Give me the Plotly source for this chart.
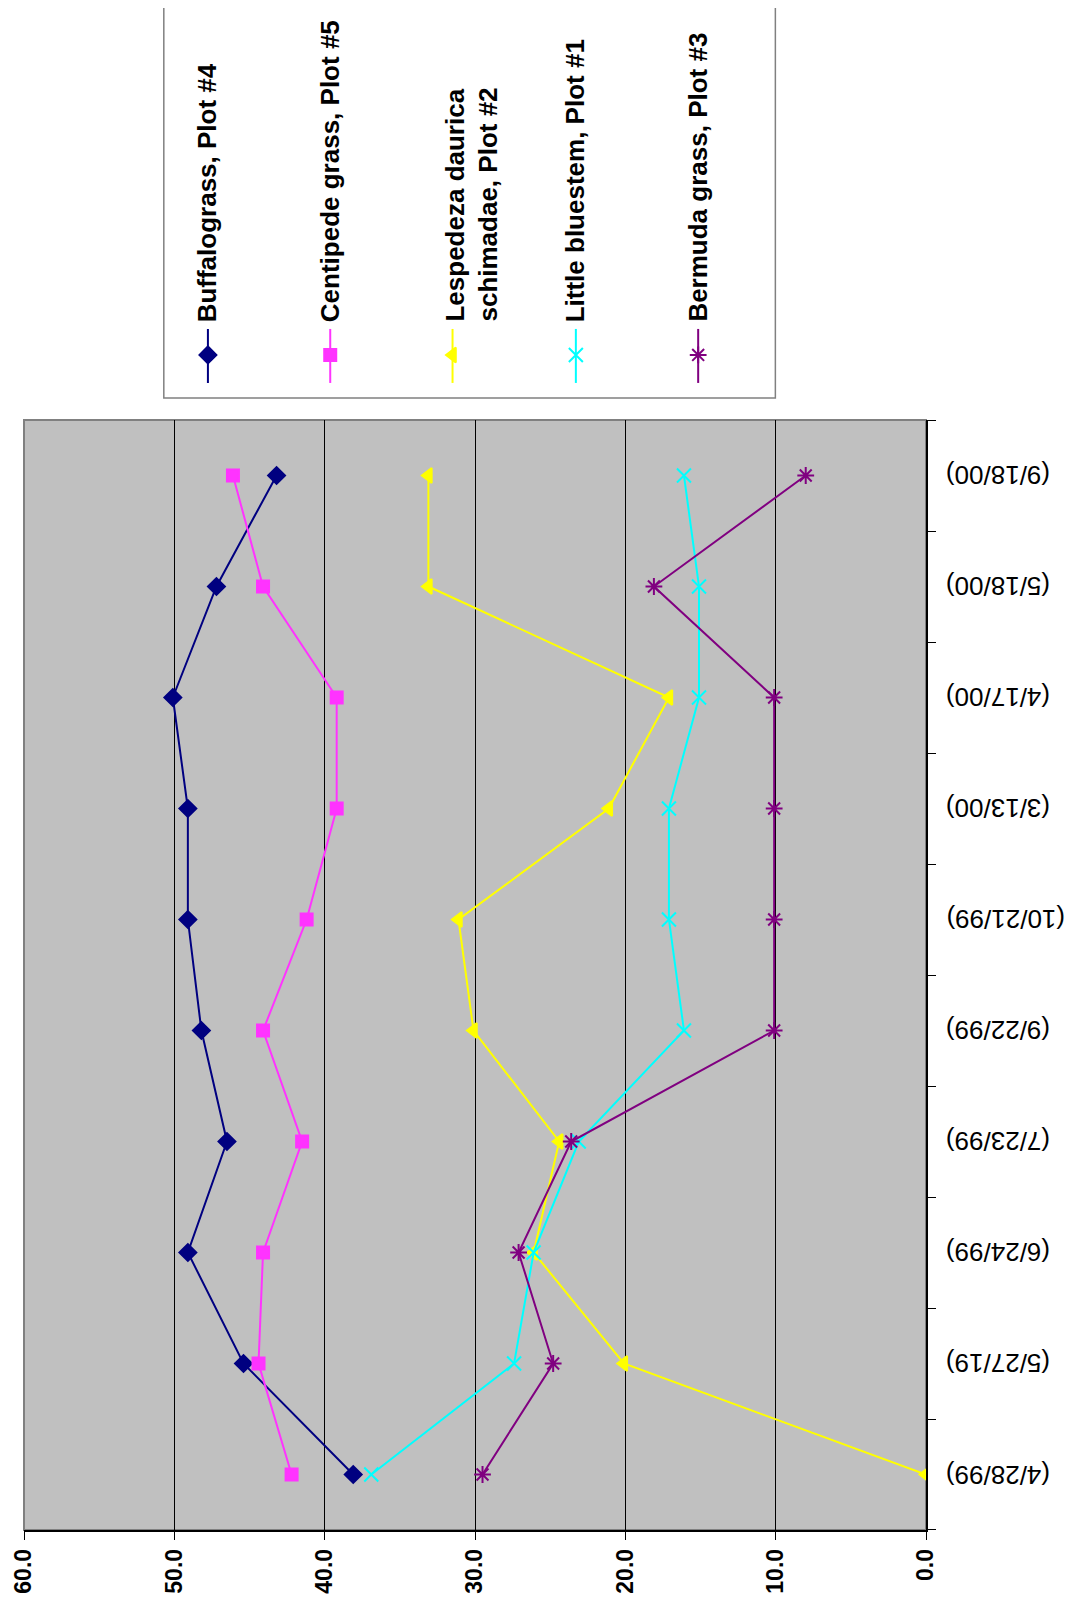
import plotly.graph_objects as go

dates = ['(4/28/99)', '(5/27/19)', '(6/24/99)', '(7/23/99)', '(9/22/99)',
         '(10/21/99)', '(3/13/00)', '(4/17/00)', '(5/18/00)', '(9/18/00)']

buffalo = [38.1, 45.4, 49.1, 46.5, 48.2, 49.1, 49.1, 50.1, 47.2, 43.2]
centipede = [42.2, 44.4, 44.1, 41.5, 44.1, 41.2, 39.2, 39.2, 44.1, 46.1]
lespedeza = [0.0, 20.1, 26.1, 24.4, 30.1, 31.1, 21.1, 17.1, 33.1, 33.1]
bluestem = [36.9, 27.4, 26.1, 23.1, 16.1, 17.1, 17.1, 15.1, 15.1, 16.1]
bermuda = [29.5, 24.8, 27.1, 23.6, 10.1, 10.1, 10.1, 10.1, 18.1, 8.0]

names = ['Buffalograss, Plot #4', 'Centipede grass, Plot #5',
         'Lespedeza daurica<br>schimadae, Plot #2', 'Little bluestem, Plot #1',
         'Bermuda grass, Plot #3']
series = [buffalo, centipede, lespedeza, bluestem, bermuda]
colors = ['#000080', '#FF33FF', '#FFFF00', '#00FFFF', '#800080']
symbols = ['diamond', 'square', 'triangle-left', 'x-thin-open', 'asterisk-open']
sizes = [13, 12, 13, 14, 14]

fig = go.Figure()

# the chart is drawn turned a quarter turn: values run right to left, dates bottom to top
for vals, col, sym, sz, nm in zip(series, colors, symbols, sizes, names):
    fig.add_trace(go.Scatter(
        x=vals, y=dates, mode='lines+markers', name=nm,
        line=dict(color=col, width=2),
        marker=dict(symbol=sym, size=sz, color=col,
                    line=dict(color=col, width=2)),
        showlegend=False))

# date labels, upside down, to the right of the plot
for d in dates:
    fig.add_annotation(x=1, xref='paper', y=d, yref='y', text=d,
                       textangle=180, showarrow=False, xanchor='left',
                       yanchor='middle', xshift=18,
                       font=dict(family='Liberation Sans', size=26, color='black'))

# hand made legend, also turned, in its own little axes above the plot
leg_x = [44, 166, 288, 411, 533]
for i, (col, sym, sz, nm) in enumerate(zip(colors, symbols, sizes, names)):
    fig.add_trace(go.Scatter(
        x=[leg_x[i], leg_x[i], leg_x[i]], y=[15, 43, 69], mode='lines',
        line=dict(color=col, width=2), xaxis='x2', yaxis='y2',
        showlegend=False, hoverinfo='skip'))
    fig.add_trace(go.Scatter(
        x=[leg_x[i]], y=[43], mode='markers',
        marker=dict(symbol=sym, size=sz, color=col,
                    line=dict(color=col, width=2)),
        xaxis='x2', yaxis='y2', showlegend=False, hoverinfo='skip'))
    tx = leg_x[i] + (19 if '<br>' in nm else 0)
    fig.add_annotation(x=tx, y=74, xref='x2', yref='y2', text=nm,
                       textangle=-90, showarrow=False, align='left',
                       xanchor='center', yanchor='bottom',
                       font=dict(family='Liberation Sans', size=26,
                                 color='black', weight='bold'))

fig.add_shape(type='rect', xref='x2 domain', yref='y2 domain',
              x0=0, x1=1, y0=0, y1=1.01, fillcolor='white',
              line=dict(color='#808080', width=1.5), layer='below')
fig.add_shape(type='rect', xref='x domain', yref='y domain',
              x0=0, x1=1, y0=0, y1=1,
              line=dict(color='#808080', width=2), layer='below')

fig.update_layout(
    width=1065, height=1605,
    margin=dict(l=16, r=147, t=0, b=83),
    paper_bgcolor='white', plot_bgcolor='#C0C0C0',
    xaxis=dict(range=[60, 0], dtick=10, tick0=0, tickformat='.1f',
               tickangle=-90, showgrid=True, gridcolor='black', gridwidth=1,
               showline=True, linecolor='black', linewidth=1.5,
               ticks='outside', ticklen=8, tickcolor='black',
               zeroline=False, domain=[0, 1], automargin=False,
               ticklabeloverflow='allow',
               tickfont=dict(family='Liberation Sans', size=23,
                             color='black', weight='bold')),
    yaxis=dict(type='category', categoryorder='array', categoryarray=dates,
               range=[-0.5, 9.5], side='right', showticklabels=False,
               showgrid=False, showline=True, linecolor='black',
               linewidth=1.5, ticks='outside', ticklen=8,
               tickcolor='black', tickson='boundaries', automargin=False,
               domain=[0, 0.7293], zeroline=False),
    xaxis2=dict(range=[0, 610], domain=[0.155, 0.833], visible=False,
                anchor='y2'),
    yaxis2=dict(range=[0, 390], domain=[0.7438, 1], visible=False,
                anchor='x2'),
)

fig.write_html('out.html')
